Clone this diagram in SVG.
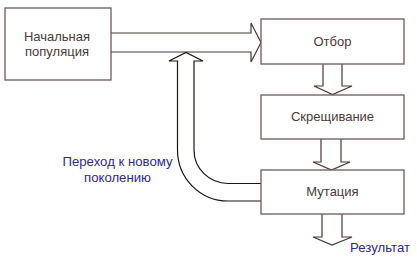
<svg xmlns="http://www.w3.org/2000/svg" width="417" height="258" viewBox="0 0 417 258">
<style>
.box{fill:#fff;stroke:#6e5a5a;stroke-width:1.3}
.arr{fill:#fff;stroke:#4a3838;stroke-width:1.2;stroke-linejoin:miter}
.fb{fill:none;stroke:#1e1414;stroke-width:1.2}
.t{font-family:"Liberation Sans",Arial,sans-serif;font-size:13px;fill:#4a3a3a;text-anchor:middle}
.lbl{font-family:"Liberation Sans",Arial,sans-serif;font-size:13.2px;fill:#2b2b8f}
</style>
<rect width="417" height="258" fill="#fff"/>
<g id="connectors">
  <path class="arr" d="M111,33 H251 V23 L261,42.5 L251,62 V52 H111"/>
  <path class="arr" d="M323,64 V86 H314 L332.5,94.5 L352,86 H342 V64"/>
  <path class="arr" d="M321,139 V162 H313 L331.5,170 L350,162 H341 V139"/>
  <path class="arr" d="M322,214 V237 H313 L332,245 L352,237 H342 V214"/>
  <path class="fb" d="M261,201 H228 A50.5 51 0 0 1 177.5,150 V61 H169 L186,52.5 L203,61 H194 V150 A34 33.5 0 0 0 228,183.5 H261"/>
  <text class="lbl" x="117.5" y="166" text-anchor="middle">Переход к новому</text>
  <text class="lbl" x="117.5" y="182" text-anchor="middle">поколению</text>
  <text class="lbl" x="350" y="252">Результат</text>
</g>
<g id="start">
  <rect class="box" x="5" y="8" width="106" height="72"/>
  <text class="t" x="57" y="41">Начальная</text>
  <text class="t" x="57" y="56">популяция</text>
</g>
<g id="selection">
  <rect class="box" x="261" y="19" width="143" height="45"/>
  <text class="t" x="332.5" y="46">Отбор</text>
</g>
<g id="crossover">
  <rect class="box" x="261" y="95" width="143" height="44"/>
  <text class="t" x="332.5" y="121">Скрещивание</text>
</g>
<g id="mutation">
  <rect class="box" x="261" y="170" width="143" height="44"/>
  <text class="t" x="332.5" y="196">Мутация</text>
</g>
</svg>
